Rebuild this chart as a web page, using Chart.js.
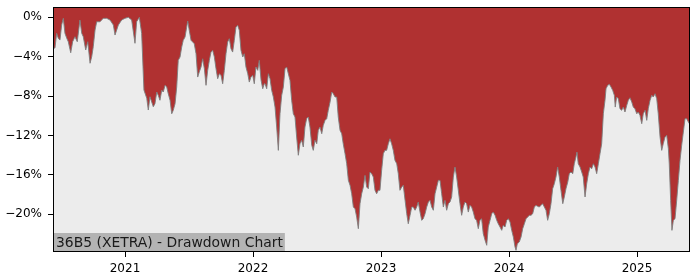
<!DOCTYPE html>
<html><head><meta charset="utf-8">
<script src="https://cdn.jsdelivr.net/npm/chart.js@4.4.1/dist/chart.umd.min.js"></script>
<style>html,body{margin:0;padding:0;background:#fff}#wrap{width:700px;height:280px}</style>
</head><body><div id="wrap"><canvas id="c" width="700" height="280"></canvas></div>
<script>
// Dates as fractional years, drawdown in percent
const dates = [
2020.440,2020.453,2020.466,2020.479,2020.492,2020.505,2020.518,2020.531,2020.545,2020.557,
2020.576,2020.591,2020.609,2020.627,2020.648,2020.662,2020.674,2020.693,2020.709,2020.727,
2020.740,2020.752,2020.766,2020.779,2020.805,2020.830,2020.857,2020.883,2020.909,2020.922,
2020.948,2020.974,2021.000,2021.026,2021.052,2021.078,2021.091,2021.112,2021.130,2021.148,
2021.170,2021.182,2021.195,2021.221,
2021.234,2021.248,2021.260,2021.273,2021.287,2021.299,2021.313,2021.326,2021.338,2021.352,
2021.365,2021.377,2021.391,2021.404,2021.416,2021.430,2021.443,2021.455,2021.469,2021.482,
2021.490,2021.502,2021.516,2021.529,2021.541,2021.555,2021.568,2021.580,2021.594,2021.607,
2021.620,2021.633,2021.646,2021.659,2021.672,2021.685,2021.698,2021.711,2021.724,2021.737,
2021.750,2021.763,2021.776,2021.789,2021.802,2021.815,2021.828,2021.841,2021.854,2021.867,
2021.880,2021.893,2021.906,2021.920,2021.932,2021.945,2021.959,2021.971,2021.984,2021.998,
2022.010,2022.023,2022.037,2022.049,2022.063,2022.076,2022.088,
2022.094,2022.107,2022.120,2022.133,2022.146,2022.159,2022.172,2022.185,2022.198,2022.211,
2022.224,2022.237,2022.250,2022.263,2022.276,2022.289,2022.302,2022.315,2022.328,2022.341,
2022.354,2022.367,2022.380,2022.393,2022.406,2022.419,2022.432,2022.445,2022.459,2022.471,
2022.484,2022.498,2022.510,2022.523,2022.537,2022.549,2022.563,2022.576,2022.588,2022.602,
2022.615,2022.627,2022.641,2022.654,2022.666,2022.680,2022.693,2022.705,2022.719,2022.732,
2022.745,2022.758,2022.771,2022.784,2022.797,2022.810,2022.823,2022.836,2022.849,2022.862,
2022.875,2022.888,2022.901,2022.914,2022.927,2022.940,2022.953,2022.966,2022.979,2022.992,
2023.005,2023.018,2023.031,2023.044,2023.057,2023.070,2023.083,2023.096,2023.109,2023.123,
2023.135,2023.148,2023.162,2023.174,2023.188,2023.201,2023.213,2023.227,2023.240,2023.252,
2023.266,2023.279,2023.291,2023.305,2023.318,2023.330,2023.344,2023.357,2023.370,2023.383,
2023.396,2023.409,2023.422,2023.435,2023.448,2023.461,2023.474,2023.487,2023.500,2023.513,
2023.526,2023.539,2023.552,2023.565,2023.578,2023.591,2023.604,2023.617,2023.630,2023.643,
2023.656,2023.669,2023.682,
2023.695,2023.708,2023.721,2023.734,2023.747,2023.760,2023.773,2023.786,2023.799,2023.813,
2023.826,2023.838,2023.852,2023.865,2023.877,2023.891,2023.904,2023.916,2023.930,2023.943,
2023.955,2023.969,2023.982,2023.995,2024.008,2024.021,2024.034,2024.047,2024.055,2024.065,
2024.080,2024.094,2024.107,2024.120,2024.133,2024.146,2024.159,2024.172,2024.185,2024.198,
2024.211,2024.224,2024.237,2024.250,2024.263,2024.276,2024.289,2024.302,2024.315,2024.328,
2024.341,2024.354,2024.367,2024.380,2024.393,2024.406,2024.420,2024.432,2024.445,2024.459,
2024.471,2024.484,2024.498,2024.510,2024.523,2024.531,2024.541,
2024.555,2024.568,2024.580,2024.594,2024.607,2024.620,2024.633,2024.646,2024.659,2024.672,
2024.685,2024.698,2024.711,2024.724,2024.737,2024.750,2024.758,2024.771,2024.784,2024.797,
2024.810,2024.823,2024.830,2024.841,2024.854,2024.867,2024.880,2024.893,2024.906,2024.920,
2024.932,2024.945,2024.959,2024.971,2024.984,2024.998,2025.010,2025.023,2025.037,2025.049,
2025.063,2025.076,2025.088,2025.102,2025.115,2025.127,2025.141,2025.154,2025.166,2025.180,
2025.193,2025.205,2025.219,2025.232,2025.245,2025.252,2025.263,2025.273,2025.284,2025.297,
2025.310,2025.323,2025.336,2025.349,2025.362,2025.375,2025.388,2025.401,2025.409
];
const drawdown = [
-3.15,-3.12,-1.63,-2.13,-2.31,-0.78,-0.10,-1.63,-2.13,-2.48,
-3.60,-2.48,-1.97,-2.48,-0.27,-1.63,-1.97,-3.32,-2.48,-4.67,
-4.00,-2.99,-1.29,-0.45,-0.45,-0.10,-0.10,-0.27,-0.78,-1.80,
-0.78,-0.27,-0.10,0,-0.27,-2.64,-0.45,0,-1.63,-7.39,
-8.23,-9.42,-8.07,-9.09,
-8.78,-7.59,-7.93,-8.43,-7.42,-7.59,-6.91,-7.08,-7.76,-8.43,
-9.80,-9.45,-8.78,-7.08,-4.37,-4.03,-3.02,-2.34,-2.00,-0.99,
-0.38,-1.32,-2.34,-2.51,-2.68,-3.70,-6.07,-5.56,-5.05,-4.21,
-5.22,-6.91,-5.39,-4.37,-3.53,-3.35,-4.03,-5.22,-6.24,-5.73,
-5.89,-6.75,-5.39,-3.70,-2.51,-2.17,-3.19,-3.53,-2.34,-0.99,
-0.81,-1.32,-3.35,-4.03,-3.70,-5.05,-5.73,-6.58,-6.07,-5.89,
-6.75,-5.05,-5.39,-4.37,-6.40,-7.26,-6.75,
-6.75,-7.26,-5.73,-6.24,-7.42,-8.10,-9.12,-11.15,-13.52,-9.80,
-7.93,-7.08,-5.22,-5.05,-5.73,-6.40,-8.43,-9.80,-10.13,-12.16,
-14.02,-12.85,-12.50,-13.18,-11.15,-10.30,-10.13,-11.15,-13.01,-13.52,
-12.50,-12.85,-11.48,-11.15,-11.83,-10.98,-10.47,-10.30,-9.45,-8.61,
-7.59,-7.76,-8.10,-8.10,-10.13,-11.48,-11.83,-12.85,-13.86,-14.88,
-16.57,-17.07,-17.93,-19.28,-19.45,-20.30,-21.48,-18.94,-17.93,-17.25,
-16.06,-17.25,-17.42,-15.72,-15.89,-16.23,-17.58,-17.93,-17.58,-17.58,
-15.55,-13.86,-13.52,-13.52,-12.85,-12.34,-12.85,-13.52,-14.53,-14.88,
-15.89,-17.58,-17.25,-17.07,-18.60,-19.96,-20.98,-20.12,-19.28,-19.28,
-19.61,-19.28,-18.77,-19.79,-20.63,-20.47,-19.96,-19.28,-18.77,-18.60,
-19.28,-19.61,-17.93,-17.25,-16.57,-16.57,-17.93,-19.28,-18.60,-19.61,
-18.94,-18.77,-18.26,-16.23,-15.21,-16.23,-17.58,-18.94,-20.12,-19.28,
-18.77,-18.94,-19.79,
-19.11,-19.28,-19.79,-20.47,-20.63,-21.48,-20.63,-20.47,-21.99,-22.66,
-23.17,-21.31,-20.63,-19.96,-19.79,-20.12,-20.63,-20.98,-21.31,-21.65,
-21.14,-21.31,-20.63,-20.47,-20.80,-21.65,-22.33,-23.34,-23.68,-23.01,
-22.84,-22.33,-21.48,-20.98,-20.47,-20.30,-20.12,-20.12,-19.96,-19.28,
-19.11,-19.21,-19.28,-19.11,-18.94,-19.28,-19.61,-20.63,-19.96,-18.94,
-17.42,-16.91,-16.23,-15.21,-16.23,-17.58,-18.94,-18.26,-17.42,-16.74,
-15.89,-15.72,-15.89,-14.88,-14.20,-13.69,-14.88,
-15.21,-15.72,-16.23,-18.26,-16.91,-15.89,-15.21,-15.39,-14.88,-15.21,
-15.89,-14.88,-13.86,-12.85,-9.80,-8.43,-7.26,-6.91,-6.81,-7.08,
-7.42,-7.93,-9.12,-8.10,-8.27,-9.29,-9.45,-9.12,-9.62,-8.94,
-8.43,-8.17,-8.61,-9.12,-9.29,-9.80,-9.62,-9.96,-10.81,-9.80,
-9.45,-10.47,-9.29,-8.43,-7.93,-8.10,-7.76,-8.27,-9.80,-12.16,
-13.52,-12.85,-12.16,-11.99,-13.35,-14.88,-18.60,-21.65,-20.63,-20.47,
-18.60,-16.57,-14.53,-13.01,-11.66,-10.30,-10.30,-10.64,-10.81
];
const yearTicks = [2021, 2022, 2023, 2024, 2025];
const pctTicks = [0, -4, -8, -12, -16, -20];
const chartLabel = '36B5 (XETRA) - Drawdown Chart';

const n = Math.min(dates.length, drawdown.length);
const points = [];
for (let i = 0; i < n; i++) points.push({x: dates[i], y: drawdown[i]});

const FONT = 'DejaVu Sans';

const framePlugin = {
  id: 'frame',
  beforeDraw(chart) {
    const {ctx, chartArea: a} = chart;
    ctx.save();
    ctx.fillStyle = '#ececec';
    ctx.fillRect(a.left, a.top, a.right - a.left, a.bottom - a.top);
    ctx.restore();
  },
  afterDatasetsDraw(chart) {
    const {ctx, chartArea: a} = chart;
    ctx.save();
    ctx.font = '13.9px "' + FONT + '"';
    const w = ctx.measureText(chartLabel).width;
    ctx.fillStyle = '#b3b3b3';
    ctx.fillRect(a.left, a.bottom - 19, w + 5, 19);
    ctx.fillStyle = '#1a1a1a';
    ctx.textBaseline = 'alphabetic';
    ctx.fillText(chartLabel, a.left + 3, a.bottom - 4.7);
    ctx.restore();
  },
  afterDraw(chart) {
    const {ctx, chartArea: a} = chart;
    ctx.save();
    ctx.strokeStyle = '#000';
    ctx.lineWidth = 1;
    ctx.strokeRect(a.left + 0.5, a.top + 0.5, a.right - a.left - 1, a.bottom - a.top - 1);
    ctx.restore();
  }
};

new Chart(document.getElementById('c'), {
  type: 'line',
  data: {
    datasets: [{
      data: points,
      fill: 'end',
      backgroundColor: '#b03131',
      borderColor: 'rgba(125,125,125,0.9)',
      borderWidth: 1,
      pointRadius: 0,
      tension: 0
    }]
  },
  options: {
    responsive: false,
    devicePixelRatio: 1,
    animation: false,
    layout: {padding: {top: 7, right: 10, left: 0, bottom: 0}},
    plugins: {legend: {display: false}, tooltip: {enabled: false}},
    scales: {
      x: {
        type: 'linear',
        min: 2020.4375,
        max: 2025.414,
        afterFit(s) { s.height = 28; s.paddingLeft = 0; s.paddingRight = 0; },
        afterBuildTicks(s) { s.ticks = yearTicks.map(v => ({value: v})); },
        grid: {display: true, drawOnChartArea: false, drawTicks: true, tickLength: 5, color: '#000', lineWidth: 1},
        border: {display: false},
        ticks: {
          color: '#000',
          padding: 5,
          maxRotation: 0,
          autoSkip: false,
          font: {family: FONT, size: 12},
          callback: v => String(v)
        }
      },
      y: {
        type: 'linear',
        min: -23.85,
        max: 1.05,
        afterFit(s) { s.width = 53; s.paddingTop = 0; s.paddingBottom = 0; },
        afterBuildTicks(s) { s.ticks = pctTicks.map(v => ({value: v})); },
        grid: {display: true, drawOnChartArea: false, drawTicks: true, tickLength: 5, color: '#000', lineWidth: 1},
        border: {display: false},
        ticks: {
          color: '#000',
          padding: 6,
          autoSkip: false,
          font: {family: FONT, size: 12},
          callback: v => (v < 0 ? '\u2212' + Math.abs(v) : String(v)) + '%'
        }
      }
    }
  },
  plugins: [framePlugin]
});
</script>
</body></html>
